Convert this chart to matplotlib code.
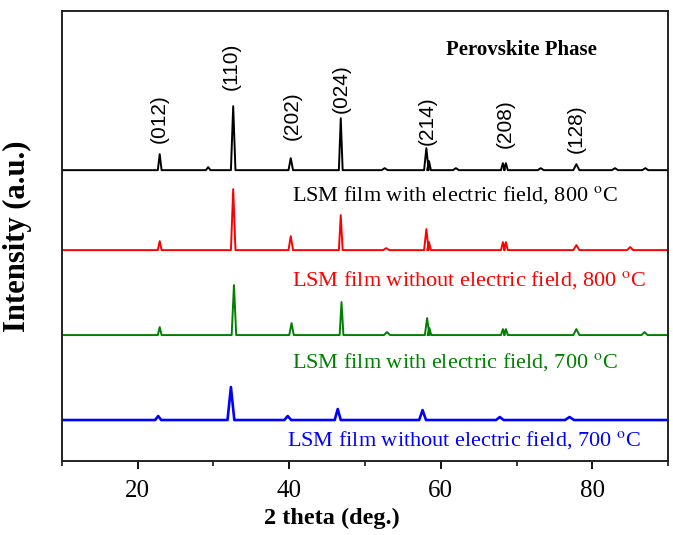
import matplotlib
matplotlib.use('Agg')
import matplotlib.pyplot as plt

plt.rcParams['mathtext.fontset'] = 'stix'

# peak lists: position (deg), height (a.u.), half width (deg)
blk_pos = [22.9, 29.3, 32.6, 40.2, 46.8, 52.6, 58.1, 58.45, 62.0, 68.2, 68.6, 73.2, 77.9, 83.0, 87.0]
blk_h   = [16, 3, 64, 12, 52, 2, 22, 9, 2, 7, 7, 2, 6, 2, 2]
blk_w   = [0.25, 0.3, 0.3, 0.3, 0.25, 0.4, 0.3, 0.25, 0.4, 0.25, 0.25, 0.4, 0.4, 0.4, 0.4]

red_pos = [22.9, 32.6, 40.2, 46.8, 52.8, 58.1, 58.45, 68.2, 68.6, 77.9, 85.0]
red_h   = [9, 61, 14, 35, 2, 21, 8, 8, 8, 5, 3]
red_w   = [0.25, 0.3, 0.3, 0.25, 0.4, 0.3, 0.25, 0.25, 0.25, 0.4, 0.4]

grn_pos = [22.9, 32.7, 40.3, 46.9, 52.9, 58.2, 58.5, 68.2, 68.6, 77.9, 86.9]
grn_h   = [8, 50, 12, 33, 3, 17, 7, 6, 6, 6, 3]
grn_w   = [0.25, 0.3, 0.3, 0.25, 0.4, 0.3, 0.25, 0.25, 0.25, 0.4, 0.4]

blu_pos = [22.7, 32.3, 39.8, 46.4, 57.6, 67.8, 77.0]
blu_h   = [4, 33, 4, 11, 10, 3, 3]
blu_w   = [0.4, 0.45, 0.45, 0.4, 0.45, 0.5, 0.6]

baselines = [291, 211, 126, 41]
colors = ['black', 'red', 'green', 'blue']

labels = ['LSM film with electric field, 800 $^{\\rm o}$C',
          'LSM film without electric field, 800 $^{\\rm o}$C',
          'LSM film with electric field, 700 $^{\\rm o}$C',
          'LSM film without electric field, 700 $^{\\rm o}$C']
label_xy = [(40.3, 266), (40.3, 181), (40.3, 99), (39.7, 21)]

hkl = ['(012)', '(110)', '(202)', '(024)', '(214)', '(208)', '(128)']
# x = peak position, y = bottom of the label
hkl_xy = [(22.9, 318), (32.4, 371), (40.4, 321), (46.9, 348), (58.2, 316), (68.5, 313), (77.9, 308)]


def trace(pos, h, w, base):
    xs = [10.0]
    ys = [base]
    for p, hh, ww in zip(pos, h, w):
        xs += [p - ww, p, p + ww]
        ys += [base, base + hh, base]
    xs.append(90.0)
    ys.append(base)
    return xs, ys


fig = plt.figure(figsize=(6.73, 5.35), dpi=100)
ax = fig.add_axes([0.0921, 0.1383, 0.9005, 0.8407])

series = [(blk_pos, blk_h, blk_w), (red_pos, red_h, red_w),
          (grn_pos, grn_h, grn_w), (blu_pos, blu_h, blu_w)]
for (pos, h, w), base, c in zip(series, baselines, colors):
    xs, ys = trace(pos, h, w, base)
    lw = 1.9 if c == 'blue' else 1.4
    ax.plot(xs, ys, '-', color=c, linewidth=lw)

for txt, (x, y), c in zip(labels, label_xy, colors):
    ax.text(x, y, txt, color=c, fontsize=16, family='Liberation Serif',
            ha='left', va='center')

for txt, (x, y) in zip(hkl, hkl_xy):
    ax.text(x, y, txt, rotation=90, fontsize=15, family='Liberation Sans',
            ha='center', va='bottom')

ax.text(70.7, 411, 'Perovskite Phase', fontsize=15, fontweight='bold',
        family='Liberation Serif', ha='center', va='center')

ax.set_xlim(10, 90)
ax.set_ylim(0, 450)
ax.set_xticks([20, 40, 60, 80])
ax.set_xticks([10, 30, 50, 70, 90], minor=True)
ax.set_yticks([])
ax.tick_params(axis='x', direction='out', length=6, width=1.3, labelsize=18, pad=8)
ax.tick_params(axis='x', which='minor', direction='out', length=3.5, width=1.1)
for lbl in ax.get_xticklabels():
    lbl.set_family('Liberation Serif')
for s in ax.spines.values():
    s.set_linewidth(1.4)
    s.set_color('#222222')

ax.set_xlabel('2 theta (deg.)', fontsize=17.5, fontweight='bold', family='Liberation Serif')
ax.xaxis.set_label_coords(0.445, -0.104)
ax.set_ylabel('Intensity (a.u.)', fontsize=22, fontweight='bold', family='Liberation Serif')
ax.yaxis.set_label_coords(-0.05, 0.5)

fig.savefig('out.png', dpi=100)
